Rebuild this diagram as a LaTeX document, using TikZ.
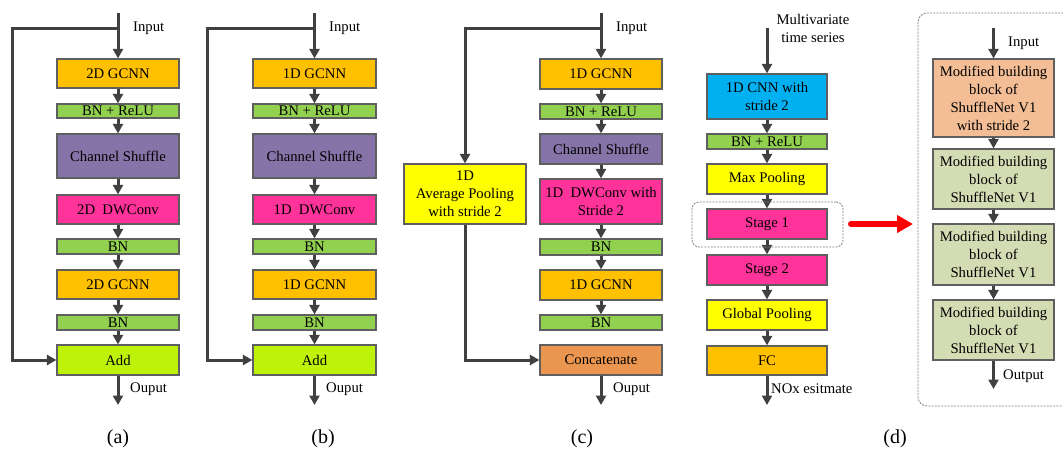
\documentclass[tikz,border=0pt]{standalone}
\usepackage{fontspec}
\setmainfont{Liberation Serif}
\usetikzlibrary{arrows.meta}
\definecolor{gcnn}{RGB}{255,192,0}
\definecolor{bn}{RGB}{146,208,80}
\definecolor{shuf}{RGB}{134,116,168}
\definecolor{dwc}{RGB}{255,51,153}
\definecolor{addc}{RGB}{190,242,10}
\definecolor{yel}{RGB}{255,255,0}
\definecolor{conc}{RGB}{235,150,80}
\definecolor{cnnb}{RGB}{0,176,240}
\definecolor{salmon}{RGB}{243,190,150}
\definecolor{grgr}{RGB}{212,220,180}
\definecolor{boxline}{RGB}{95,95,95}
\definecolor{arrowc}{RGB}{64,64,64}
\begin{document}
\begin{tikzpicture}[x=1pt,y=-1pt,
  box/.style={draw=boxline, line width=1.2pt, inner sep=0pt, align=center, font=\fontsize{14.7}{18}\selectfont},
  arr/.style={draw=arrowc, line width=3pt, -{Triangle[length=9.5pt,width=10pt]}},
  lbl/.style={font=\fontsize{14.7}{18}\selectfont, inner sep=0pt, align=center},
  captxt/.style={font=\fontsize{20}{24}\selectfont, inner sep=0pt},
  dashbox/.style={draw=gray, line width=0.8pt, dash pattern=on 2pt off 1.2pt, rounded corners=7pt},
  redarr/.style={draw=red, line width=6pt, line cap=round, -{Triangle[length=16pt,width=17pt]}}]
\useasboundingbox (0,0) rectangle (1063,451);

% ---------------- (a)
\coordinate (aIn) at (118,13);
\coordinate (aBr) at (118,28);
\coordinate (aL1) at (12,28);
\coordinate (aL2) at (12,360);
\coordinate (aOut) at (118,405);
\node[box,fill=gcnn,minimum width=122pt,minimum height=29pt] (a1) at (118,73.5) {2D GCNN};
\node[box,fill=bn,minimum width=122pt,minimum height=14pt] (a2) at (118,111) {BN + ReLU};
\node[box,fill=shuf,minimum width=122pt,minimum height=44pt] (a3) at (118,156) {Channel Shuffle};
\node[box,fill=dwc,minimum width=122pt,minimum height=29pt] (a4) at (118,209.5) {2D\ \ DWConv};
\node[box,fill=bn,minimum width=122pt,minimum height=15pt] (a5) at (118,246.5) {BN};
\node[box,fill=gcnn,minimum width=122pt,minimum height=29pt] (a6) at (118,284.5) {2D GCNN};
\node[box,fill=bn,minimum width=122pt,minimum height=15pt] (a7) at (118,322.5) {BN};
\node[box,fill=addc,minimum width=122pt,minimum height=30pt] (a8) at (118,360) {Add};
\draw[arr] (aIn) -- (a1);
\draw[arr] (a1) -- (a2);
\draw[arr] (a2) -- (a3);
\draw[arr] (a3) -- (a4);
\draw[arr] (a4) -- (a5);
\draw[arr] (a5) -- (a6);
\draw[arr] (a6) -- (a7);
\draw[arr] (a7) -- (a8);
\draw[arr] (aBr) -- (aL1) -- (aL2) -- (a8.west);
\draw[arr] (a8) -- (aOut);
\node[lbl,anchor=west] (aInL) at (133,28) {Input};
\node[lbl,anchor=west] (aOutL) at (130,389) {Ouput};
\node[captxt] (capa) at (118,439) {(a)};

% ---------------- (b)
\coordinate (bIn) at (314.5,13);
\coordinate (bBr) at (314.5,28);
\coordinate (bL1) at (207,28);
\coordinate (bL2) at (207,360);
\coordinate (bOut) at (314.5,405);
\node[box,fill=gcnn,minimum width=123pt,minimum height=29pt] (b1) at (314.5,73.5) {1D GCNN};
\node[box,fill=bn,minimum width=123pt,minimum height=14pt] (b2) at (314.5,111) {BN + ReLU};
\node[box,fill=shuf,minimum width=123pt,minimum height=44pt] (b3) at (314.5,156) {Channel Shuffle};
\node[box,fill=dwc,minimum width=123pt,minimum height=29pt] (b4) at (314.5,209.5) {1D\ \ DWConv};
\node[box,fill=bn,minimum width=123pt,minimum height=15pt] (b5) at (314.5,246.5) {BN};
\node[box,fill=gcnn,minimum width=123pt,minimum height=29pt] (b6) at (314.5,284.5) {1D GCNN};
\node[box,fill=bn,minimum width=123pt,minimum height=15pt] (b7) at (314.5,322.5) {BN};
\node[box,fill=addc,minimum width=123pt,minimum height=30pt] (b8) at (314.5,360) {Add};
\draw[arr] (bIn) -- (b1);
\draw[arr] (b1) -- (b2);
\draw[arr] (b2) -- (b3);
\draw[arr] (b3) -- (b4);
\draw[arr] (b4) -- (b5);
\draw[arr] (b5) -- (b6);
\draw[arr] (b6) -- (b7);
\draw[arr] (b7) -- (b8);
\draw[arr] (bBr) -- (bL1) -- (bL2) -- (b8.west);
\draw[arr] (b8) -- (bOut);
\node[lbl,anchor=west] (bInL) at (329,28) {Input};
\node[lbl,anchor=west] (bOutL) at (326,389) {Ouput};
\node[captxt] (capb) at (323,439) {(b)};

% ---------------- (c)
\coordinate (cIn) at (601,13);
\coordinate (cBr) at (601,28);
\coordinate (cL1) at (465,28);
\coordinate (cL2) at (465,360);
\coordinate (cOut) at (601,405);
\node[box,fill=gcnn,minimum width=122pt,minimum height=30pt] (c1) at (601,74) {1D GCNN};
\node[box,fill=bn,minimum width=122pt,minimum height=15pt] (c2) at (601,111.5) {BN + ReLU};
\node[box,fill=shuf,minimum width=122pt,minimum height=30pt] (c3) at (601,149) {Channel Shuffle};
\node[box,fill=dwc,minimum width=122pt,minimum height=45pt] (c4) at (601,201.5) {1D\ \ DWConv with\\Stride 2};
\node[box,fill=bn,minimum width=122pt,minimum height=16pt] (c5) at (601,247) {BN};
\node[box,fill=gcnn,minimum width=122pt,minimum height=30pt] (c6) at (601,285) {1D GCNN};
\node[box,fill=bn,minimum width=122pt,minimum height=15pt] (c7) at (601,322.5) {BN};
\node[box,fill=conc,minimum width=122pt,minimum height=30pt] (c8) at (601,360) {Concatenate};
\node[box,fill=yel,minimum width=122pt,minimum height=60pt] (cp) at (465,194) {1D\\Average Pooling\\with stride 2};
\draw[arr] (cIn) -- (c1);
\draw[arr] (c1) -- (c2);
\draw[arr] (c2) -- (c3);
\draw[arr] (c3) -- (c4);
\draw[arr] (c4) -- (c5);
\draw[arr] (c5) -- (c6);
\draw[arr] (c6) -- (c7);
\draw[arr] (cBr) -- (cL1) -- (cp);
\draw[arr] (cp) -- (cL2) -- (c8.west);
\draw[arr] (c8) -- (cOut);
\node[lbl,anchor=west] (cInL) at (616,28) {Input};
\node[lbl,anchor=west] (cOutL) at (613,389) {Ouput};
\node[captxt] (capc) at (582,439) {(c)};

% ---------------- (d) left
\coordinate (dIn) at (767,28);
\coordinate (dOut) at (767,405);
\node[box,fill=cnnb,minimum width=120pt,minimum height=45pt] (d1) at (767,96.5) {1D CNN with\\stride 2};
\node[box,fill=bn,minimum width=120pt,minimum height=15pt] (d2) at (767,141.5) {BN + ReLU};
\node[box,fill=yel,minimum width=120pt,minimum height=30pt] (d3) at (767,179) {Max Pooling};
\node[box,fill=dwc,minimum width=120pt,minimum height=30pt] (d4) at (767,224) {Stage 1};
\node[box,fill=dwc,minimum width=120pt,minimum height=30pt] (d5) at (767,270) {Stage 2};
\node[box,fill=yel,minimum width=120pt,minimum height=30pt] (d6) at (767,315) {Global Pooling};
\node[box,fill=gcnn,minimum width=120pt,minimum height=29pt] (d7) at (767,360.5) {FC};
\draw[arr] (dIn) -- (d1);
\draw[arr] (d1) -- (d2);
\draw[arr] (d2) -- (d3);
\draw[arr] (d3) -- (d4);
\draw[arr] (d4) -- (d5);
\draw[arr] (d5) -- (d6);
\draw[arr] (d6) -- (d7);
\draw[arr] (d7) -- (dOut);
\node[lbl] (dInL) at (813,28) {Multivariate\\time series};
\node[lbl,anchor=west] (dOutL) at (771,389) {NOx esitmate};
\node[dashbox,minimum width=151pt,minimum height=45pt,inner sep=0pt] (dsel) at (767.5,224.5) {};
\coordinate (rA) at (851,224);
\coordinate (rB) at (913,224);
\draw[redarr] (rA) -- (rB);
\node[captxt] (capd) at (895,439) {(d)};

% ---------------- (d) right
\begin{scope}
\clip (0,0) rectangle (1063,451);
\draw[dashbox,rounded corners=9pt] (918,13) rectangle (1080,406);
\end{scope}
\coordinate (eIn) at (993.5,28);
\coordinate (eOut) at (993.5,389);
\node[box,fill=salmon,minimum width=121pt,minimum height=78pt] (e1) at (993.5,98) {Modified building\\block of\\ShuffleNet V1\\with stride 2};
\node[box,fill=grgr,minimum width=121pt,minimum height=60pt] (e2) at (993.5,179) {Modified building\\block of\\ShuffleNet V1};
\node[box,fill=grgr,minimum width=121pt,minimum height=61pt] (e3) at (993.5,254.5) {Modified building\\block of\\ShuffleNet V1};
\node[box,fill=grgr,minimum width=121pt,minimum height=60pt] (e4) at (993.5,330) {Modified building\\block of\\ShuffleNet V1};
\draw[arr] (eIn) -- (e1);
\draw[arr] (e1) -- (e2);
\draw[arr] (e2) -- (e3);
\draw[arr] (e3) -- (e4);
\draw[arr] (e4) -- (eOut);
\node[lbl,anchor=west] (eInL) at (1008,43) {Input};
\node[lbl,anchor=west] (eOutL) at (1003,376) {Output};
\end{tikzpicture}
\end{document}
